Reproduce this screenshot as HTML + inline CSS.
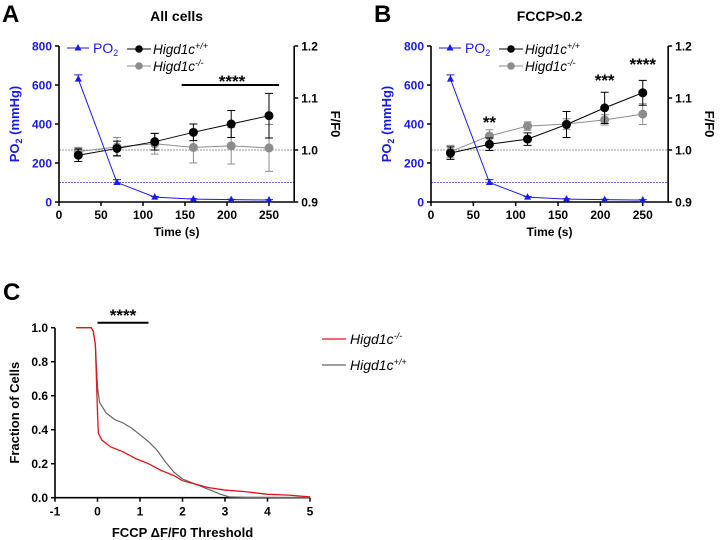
<!DOCTYPE html>
<html><head><meta charset="utf-8"><style>
body{margin:0;background:#fff}
svg{display:block;font-family:"Liberation Sans",Arial,sans-serif}
.t{font-weight:bold;font-size:12px}
</style></head><body>
<svg id="s" width="727" height="540" viewBox="0 0 727 540"></svg>
<script>
const times=[23,69,114,160,205,250];
const po2=[630,100,25,15,12,10];
const po2Err=[22,15,3,2,2,2];
const aWT=[0.990,1.003,1.016,1.034,1.050,1.066];
const aWTErr=[0.012,0.014,0.016,0.016,0.026,0.043];
const aKO=[0.997,1.006,1.012,1.005,1.008,1.004];
const aKOErr=[0.008,0.018,0.02,0.03,0.035,0.045];
const bWT=[0.994,1.011,1.021,1.049,1.081,1.110];
const bWTErr=[0.012,0.012,0.012,0.025,0.03,0.024];
const bKO=[0.997,1.027,1.046,1.050,1.058,1.069];
const bKOErr=[0.012,0.012,0.008,0.01,0.01,0.02];
const xTicks=[0,50,100,150,200,250];
const leftTicks=[0,200,400,600,800];
const rightTicks=[0.9,1.0,1.1,1.2];
const cRedX=[-0.5,-0.15,-0.1,-0.05,0,0.02,0.1,0.3,0.6,0.9,1.2,1.5,1.8,2,2.3,2.6,3,3.5,4,4.5,5];
const cRedY=[1,1,0.98,0.9,0.5,0.38,0.34,0.3,0.27,0.23,0.2,0.16,0.13,0.1,0.08,0.06,0.045,0.035,0.02,0.015,0.005];
const cGrayX=[-0.5,-0.15,-0.1,-0.05,0,0.05,0.2,0.4,0.6,0.8,1.0,1.2,1.4,1.6,1.8,2.0,2.3,2.6,2.9,3.1,3.5,5];
const cGrayY=[1,1,0.98,0.9,0.65,0.56,0.5,0.46,0.44,0.41,0.37,0.33,0.28,0.21,0.15,0.11,0.08,0.05,0.02,0.005,0.002,0];
const cXTicks=[-1,0,1,2,3,4,5];
const cYTicks=[0,0.2,0.4,0.6,0.8,1.0];

const S=document.getElementById('s');const NS='http://www.w3.org/2000/svg';
function el(t,a,txt){const e=document.createElementNS(NS,t);for(const k in a)e.setAttribute(k,a[k]);if(txt!==undefined)e.textContent=txt;S.appendChild(e);return e;}

function panel(o){
  const X=v=>o.x0+v*o.xs, YL=v=>202-v/800*156, YR=v=>202-(v-0.9)/0.3*156;
  const xe=X(280);
  let e=el('text',{x:o.x0-57,y:22,'font-size':24,'font-weight':'bold'},o.letter);
  
  
  e=el('text',{x:(o.x0+xe)/2,y:21,'font-size':14,'font-weight':'bold','text-anchor':'middle'},o.title);
  
  
  e=el('line',{x1:o.x0,x2:xe,y1:YL(100),y2:YL(100),stroke:'#3333dd','stroke-width':0.8,'stroke-dasharray':'2,1'});
  
  
  e=el('line',{x1:o.x0,x2:xe,y1:YR(1),y2:YR(1),stroke:'#777','stroke-width':0.8,'stroke-dasharray':'2,1'});
  
  
  e=el('path',{d:`M${o.x0},46V202H${xe}V46`,fill:'none',stroke:'#000','stroke-width':1.6});
  
  
  xTicks.forEach(t=>{
    e=el('line',{x1:X(t),x2:X(t),y1:202,y2:206,stroke:'#000','stroke-width':1.5});
    
    
    e=el('text',{x:X(t),y:219,'text-anchor':'middle',class:'t'},t);
    
    
  });
  leftTicks.forEach(t=>{
    e=el('line',{x1:o.x0-4,x2:o.x0,y1:YL(t),y2:YL(t),stroke:'#000','stroke-width':1.5});
    
    
    e=el('text',{x:o.x0-7,y:YL(t)+4.5,'text-anchor':'end',class:'t',fill:'#1a1ae6'},t);
    
    
  });
  rightTicks.forEach(t=>{
    e=el('line',{x1:xe,x2:xe+4,y1:YR(t),y2:YR(t),stroke:'#000','stroke-width':1.5});
    
    
    e=el('text',{x:xe+7,y:YR(t)+4.5,class:'t'},t.toFixed(1));
    
    
  });
  e=el('text',{x:(o.x0+xe)/2,y:236,'text-anchor':'middle','font-size':12,'font-weight':'bold'},'Time (s)');
  
  
  e=el('text',{transform:`translate(${o.x0-40},124) rotate(-90)`,'text-anchor':'middle','font-size':13,'font-weight':'bold',fill:'#1a1ae6'});
  e.innerHTML='PO<tspan font-size="9" dy="3">2</tspan><tspan dy="-3"> (mmHg)</tspan>';
  
  
  e=el('text',{transform:`translate(${xe+37},124) rotate(90)`,'text-anchor':'middle','font-size':13,'font-weight':'bold'},'F/F0');
  
  
  function series(vals,errs,col,name){
    e=el('polyline',{points:times.map((t,i)=>X(t)+','+YR(vals[i])).join(' '),fill:'none',stroke:col,'stroke-width':1});
    
    
    times.forEach((t,i)=>{
      const x=X(t),y1=YR(vals[i]-errs[i]),y2=YR(vals[i]+errs[i]);
      e=el('path',{d:`M${x},${y1}V${y2}M${x-4},${y1}h8M${x-4},${y2}h8`,stroke:col,'stroke-width':1,fill:'none'});
      
      
      e=el('circle',{cx:x,cy:YR(vals[i]),r:4.5,fill:col});
      
      
    });
  }
  series(o.ko,o.koErr,'#8c8c8c','higd1c-ko');
  series(o.wt,o.wtErr,'#000','higd1c-wt');
  e=el('polyline',{points:times.map((t,i)=>X(t)+','+YL(po2[i])).join(' '),fill:'none',stroke:'#1a1ae6','stroke-width':1});
  
  
  times.forEach((t,i)=>{
    const x=X(t),y=YL(po2[i]);
    e=el('path',{d:`M${x},${YL(po2[i]+po2Err[i])}V${y}M${x-4},${YL(po2[i]+po2Err[i])}h8`,stroke:'#1a1ae6','stroke-width':1});
    
    
    e=el('path',{d:`M${x},${y-4}L${x+3.5},${y+2.5}L${x-3.5},${y+2.5}Z`,fill:'#1a1ae6'});
    
    
  });
  const lx=o.x0+8;
  e=el('line',{x1:lx,x2:lx+22,y1:48,y2:48,stroke:'#1a1ae6','stroke-width':1});
  
  
  e=el('path',{d:`M${lx+11},44L${lx+14.5},50.5L${lx+7.5},50.5Z`,fill:'#1a1ae6'});
  
  
  e=el('text',{x:lx+26,y:53,'font-size':14,fill:'#1a1ae6'});
  e.innerHTML='PO<tspan font-size="9" dy="3">2</tspan>';
  
  
  [['#000','+/+',49,'wt'],['#8c8c8c','-/-',66,'ko']].forEach(([c,sup,y,n])=>{
    e=el('line',{x1:o.x0+68,x2:o.x0+92,y1:y,y2:y,stroke:c,'stroke-width':1});
    
    
    e=el('circle',{cx:o.x0+80,cy:y,r:3.8,fill:c});
    
    
    e=el('text',{x:o.x0+94,y:y+5,'font-size':13.5,'font-style':'italic'});
    e.innerHTML='Higd1c<tspan font-size="9" dy="-5">'+sup+'</tspan>';
    
    
  });
  o.sig.forEach(s=>{
    if(s.bar){e=el('line',{x1:X(s.bar[0]),x2:X(s.bar[1]),y1:85,y2:85,stroke:'#000','stroke-width':2});
      
      }
    e=el('text',{x:X(s.x),y:s.y,'text-anchor':'middle','font-size':17,'font-weight':'bold'},s.t);
    
    
  });
}
panel({x0:59,xs:0.84,letter:'A',title:'All cells',wt:aWT,wtErr:aWTErr,ko:aKO,koErr:aKOErr,sig:[{bar:[146,262],x:206,y:87,t:'****'}]});
panel({x0:431,xs:0.847,letter:'B',title:'FCCP>0.2',wt:bWT,wtErr:bWTErr,ko:bKO,koErr:bKOErr,sig:[{x:69,y:128,t:'**'},{x:205,y:86,t:'***'},{x:250,y:70,t:'****'}]});

(function(){
  const X=v=>97.5+v*42.5, Y=v=>497.7-v*170;
  let e=el('text',{x:3,y:300,'font-size':24,'font-weight':'bold'},'C');
  
  
  e=el('path',{d:`M${X(-1)},${Y(1.0)}V${Y(0)}H${X(5)}`,fill:'none',stroke:'#000','stroke-width':1.6});
  
  
  cXTicks.forEach(t=>{
    e=el('line',{x1:X(t),x2:X(t),y1:Y(0),y2:Y(0)+4,stroke:'#000','stroke-width':1.5});
    
    
    e=el('text',{x:X(t),y:Y(0)+18,'text-anchor':'middle',class:'t'},t);
    
    
  });
  cYTicks.forEach(t=>{
    e=el('line',{x1:X(-1)-4,x2:X(-1),y1:Y(t),y2:Y(t),stroke:'#000','stroke-width':1.5});
    
    
    e=el('text',{x:X(-1)-7,y:Y(t)+4.5,'text-anchor':'end',class:'t'},t.toFixed(1));
    
    
  });
  e=el('text',{x:X(2),y:537,'text-anchor':'middle','font-size':13,'font-weight':'bold'},'FCCP \u0394F/F0 Threshold');
  
  
  e=el('text',{transform:`translate(19,${Y(0.5)}) rotate(-90)`,'text-anchor':'middle','font-size':13,'font-weight':'bold'},'Fraction of Cells');
  
  
  e=el('polyline',{points:cGrayX.map((x,i)=>X(x)+','+Y(cGrayY[i])).join(' '),fill:'none',stroke:'#666','stroke-width':1.2});
  
  
  e=el('polyline',{points:cRedX.map((x,i)=>X(x)+','+Y(cRedY[i])).join(' '),fill:'none',stroke:'#e0151b','stroke-width':1.3});
  
  
  e=el('line',{x1:X(0),x2:X(1.2),y1:322.7,y2:322.7,stroke:'#000','stroke-width':2});
  
  
  e=el('text',{x:X(0.6),y:321,'text-anchor':'middle','font-size':17,'font-weight':'bold'},'****');
  
  
  [['#e0151b','-/-',339,'ko'],['#666','+/+',365,'wt']].forEach(([c,sup,y,n])=>{
    e=el('line',{x1:322,x2:346,y1:y,y2:y,stroke:c,'stroke-width':1.2});
    
    
    e=el('text',{x:350,y:y+5,'font-size':14,'font-style':'italic'});
    e.innerHTML='Higd1c<tspan font-size="9" dy="-5">'+sup+'</tspan>';
    
    
  });
})();
</script>
</body></html>
